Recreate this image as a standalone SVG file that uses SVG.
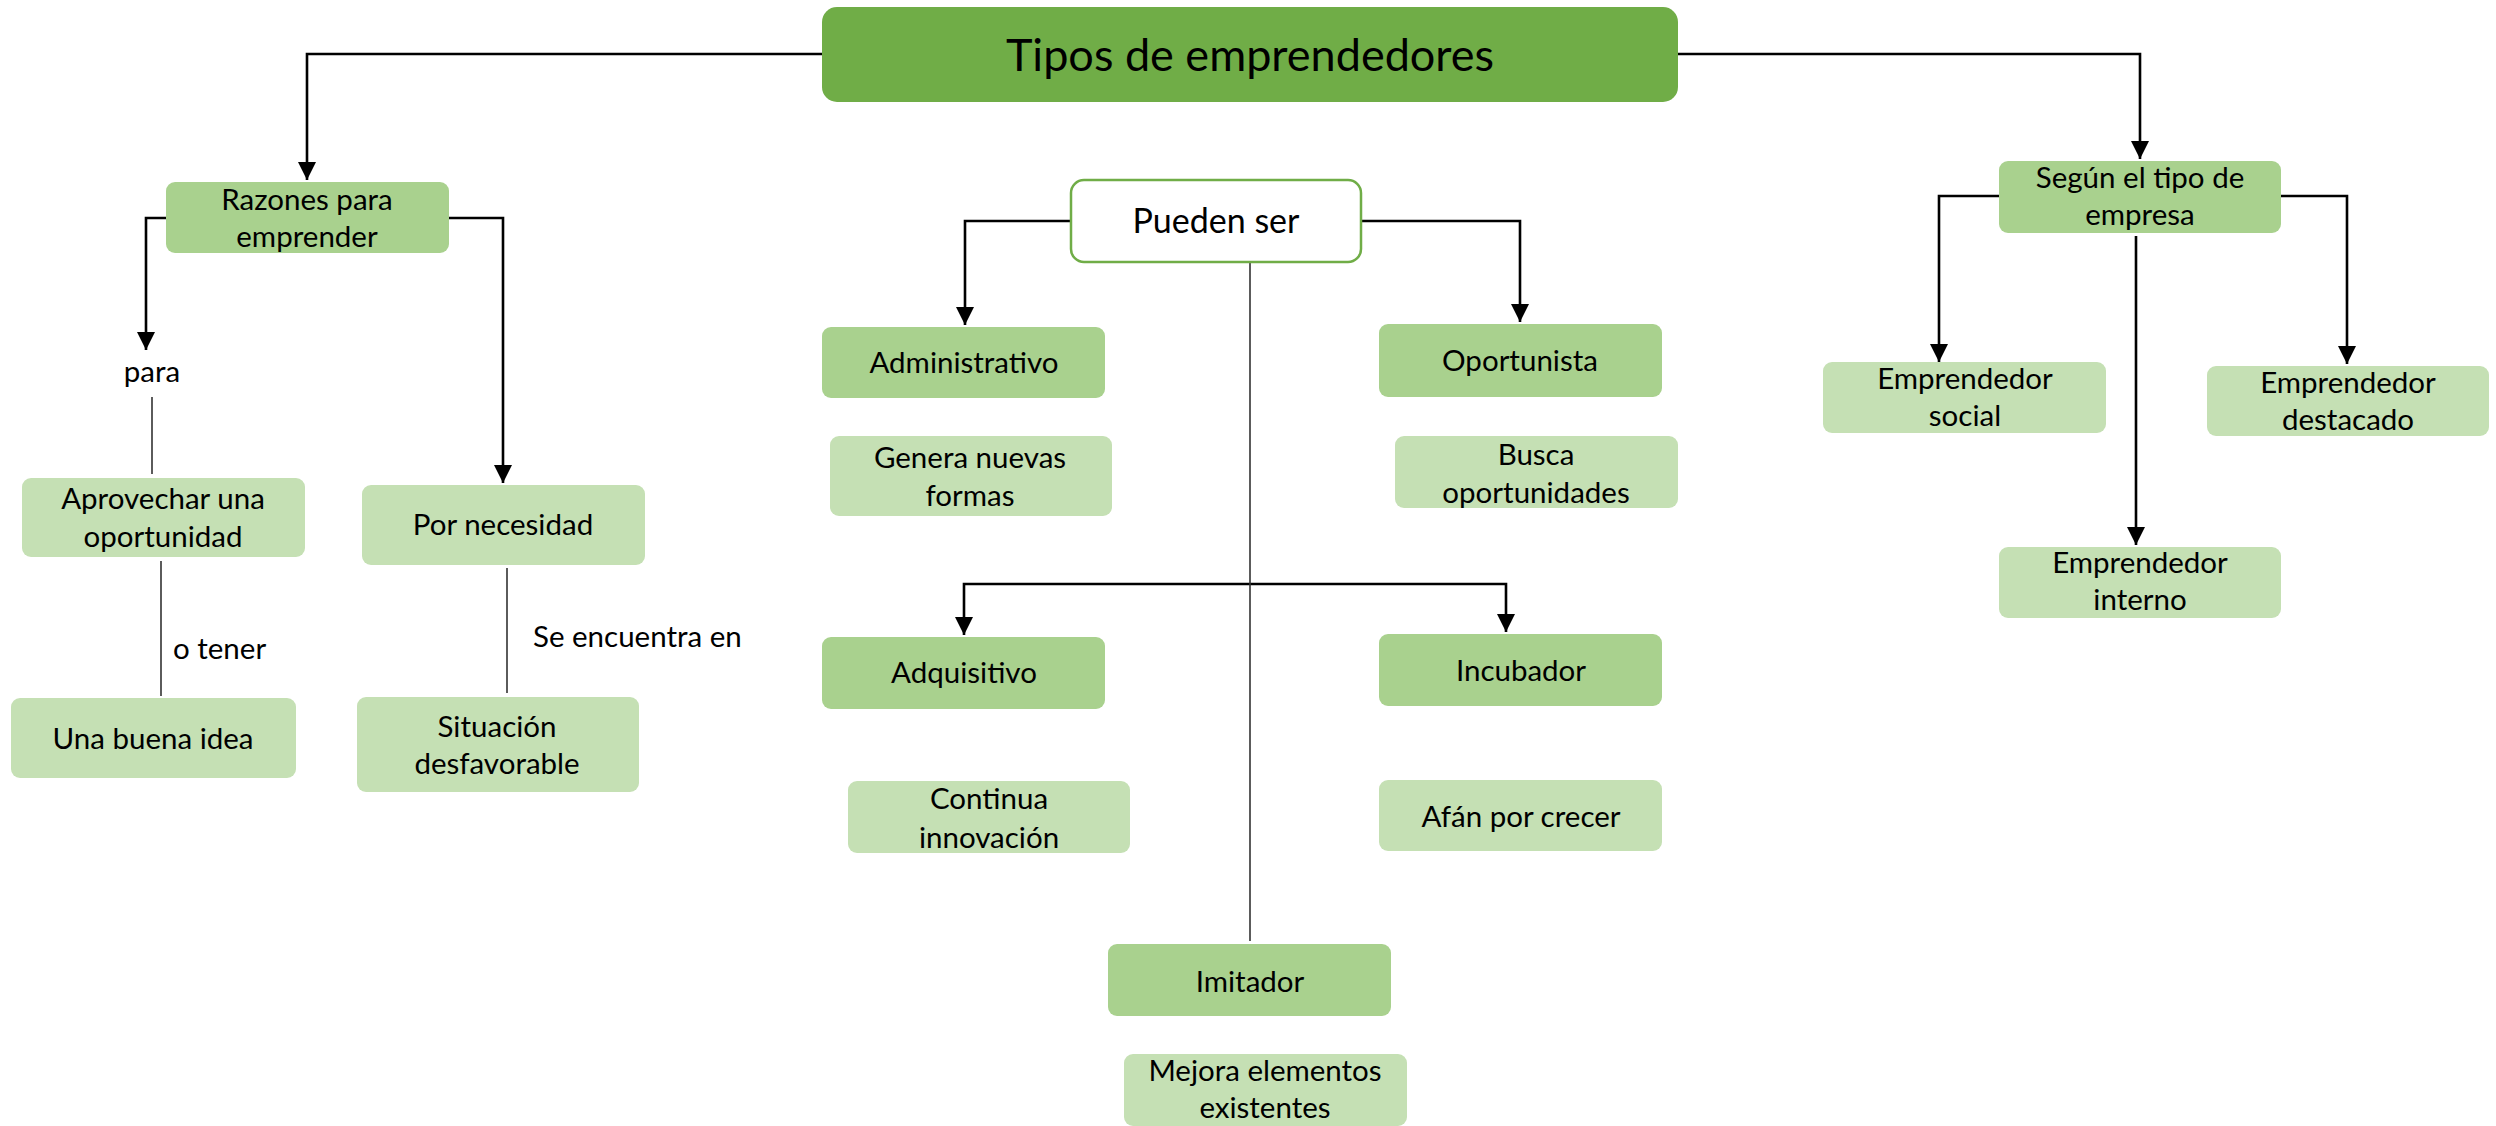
<svg xmlns="http://www.w3.org/2000/svg" width="2496" height="1126" viewBox="0 0 2496 1126">
<style>
text{font-family:Lato,"Liberation Sans",sans-serif;fill:#000;}
.t{font-size:29.5px;text-anchor:middle;}
.l{font-size:29.5px;}
.title{font-size:45px;text-anchor:middle;}
.ps{font-size:34px;text-anchor:middle;}
.dk{fill:#A9D18E;}
.lt{fill:#C5E0B4;}
.arr{fill:none;stroke:#000;stroke-width:2.6;marker-end:url(#ah);}
.thin{fill:none;stroke:#333;stroke-width:1.6;}
</style>
<defs>
<marker id="ah" markerUnits="userSpaceOnUse" markerWidth="18" markerHeight="18" refX="16" refY="8" orient="auto" viewBox="0 0 16 16">
<path d="M0,0 L16,8 L0,16 z" fill="#000"/>
</marker>
</defs>
<rect width="2496" height="1126" fill="#fff"/>
<g id="connectors">
<path class="arr" d="M822,54 H307 V180"/>
<path class="arr" d="M1678,54 H2140 V159"/>
<path class="arr" d="M166,218 H146 V350"/>
<path class="arr" d="M449,218 H503 V483"/>
<path class="arr" d="M1071,221 H965 V325"/>
<path class="arr" d="M1361,221 H1520 V322"/>
<path class="arr" d="M1250,584 H964 V635"/>
<path class="arr" d="M1250,584 H1506 V632"/>
<path class="arr" d="M1999,196 H1939 V362"/>
<path class="arr" d="M2281,196 H2347 V364"/>
<path class="arr" d="M2136,236 V545"/>
<path class="thin" d="M152,397 V474"/>
<path class="thin" d="M161,561 V696"/>
<path class="thin" d="M507,568 V693"/>
<path class="thin" d="M1250,263 V941"/>
</g>
<g id="main"><rect x="822" y="7" width="856" height="95" rx="15" fill="#70AD47"/><text class="title" x="1250" y="71">Tipos de emprendedores</text></g>
<g id="razones"><rect class="dk" x="166" y="182" width="283" height="71" rx="9"/><text class="t" x="307" y="210">Razones para</text><text class="t" x="307" y="247">emprender</text></g>
<g id="para"><text class="t" x="152" y="382">para</text></g>
<g id="aprovechar"><rect class="lt" x="22" y="478" width="283" height="79" rx="9"/><text class="t" x="163" y="509">Aprovechar una</text><text class="t" x="163" y="547">oportunidad</text></g>
<g id="otener"><text class="l" x="173" y="659">o tener</text></g>
<g id="buenaidea"><rect class="lt" x="11" y="698" width="285" height="80" rx="9"/><text class="t" x="153" y="749">Una buena idea</text></g>
<g id="necesidad"><rect class="lt" x="362" y="485" width="283" height="80" rx="9"/><text class="t" x="503" y="535">Por necesidad</text></g>
<g id="seencuentra"><text class="l" x="533" y="647">Se encuentra en</text></g>
<g id="situacion"><rect class="lt" x="357" y="697" width="282" height="95" rx="9"/><text class="t" x="497" y="737">Situación</text><text class="t" x="497" y="774">desfavorable</text></g>
<g id="pueden"><rect x="1071" y="180" width="290" height="82" rx="13" fill="#fff" stroke="#70AD47" stroke-width="2.5"/><text class="ps" x="1216" y="233">Pueden ser</text></g>
<g id="administrativo"><rect class="dk" x="822" y="327" width="283" height="71" rx="9"/><text class="t" x="964" y="373">Administrativo</text></g>
<g id="genera"><rect class="lt" x="830" y="436" width="282" height="80" rx="9"/><text class="t" x="970" y="468">Genera nuevas</text><text class="t" x="970" y="506">formas</text></g>
<g id="oportunista"><rect class="dk" x="1379" y="324" width="283" height="73" rx="9"/><text class="t" x="1520" y="371">Oportunista</text></g>
<g id="busca"><rect class="lt" x="1395" y="436" width="283" height="72" rx="9"/><text class="t" x="1536" y="465">Busca</text><text class="t" x="1536" y="503">oportunidades</text></g>
<g id="adquisitivo"><rect class="dk" x="822" y="637" width="283" height="72" rx="9"/><text class="t" x="964" y="683">Adquisitivo</text></g>
<g id="continua"><rect class="lt" x="848" y="781" width="282" height="72" rx="9"/><text class="t" x="989" y="809">Continua</text><text class="t" x="989" y="848">innovación</text></g>
<g id="incubador"><rect class="dk" x="1379" y="634" width="283" height="72" rx="9"/><text class="t" x="1521" y="681">Incubador</text></g>
<g id="afan"><rect class="lt" x="1379" y="780" width="283" height="71" rx="9"/><text class="t" x="1521" y="827">Afán por crecer</text></g>
<g id="imitador"><rect class="dk" x="1108" y="944" width="283" height="72" rx="9"/><text class="t" x="1250" y="992">Imitador</text></g>
<g id="mejora"><rect class="lt" x="1124" y="1054" width="283" height="72" rx="9"/><text class="t" x="1265" y="1081">Mejora elementos</text><text class="t" x="1265" y="1118">existentes</text></g>
<g id="segun"><rect class="dk" x="1999" y="161" width="282" height="72" rx="9"/><text class="t" x="2140" y="188">Según el tipo de</text><text class="t" x="2140" y="225">empresa</text></g>
<g id="social"><rect class="lt" x="1823" y="362" width="283" height="71" rx="9"/><text class="t" x="1965" y="389">Emprendedor</text><text class="t" x="1965" y="426">social</text></g>
<g id="destacado"><rect class="lt" x="2207" y="366" width="282" height="70" rx="9"/><text class="t" x="2348" y="393">Emprendedor</text><text class="t" x="2348" y="430">destacado</text></g>
<g id="interno"><rect class="lt" x="1999" y="547" width="282" height="71" rx="9"/><text class="t" x="2140" y="573">Emprendedor</text><text class="t" x="2140" y="610">interno</text></g>
</svg>
